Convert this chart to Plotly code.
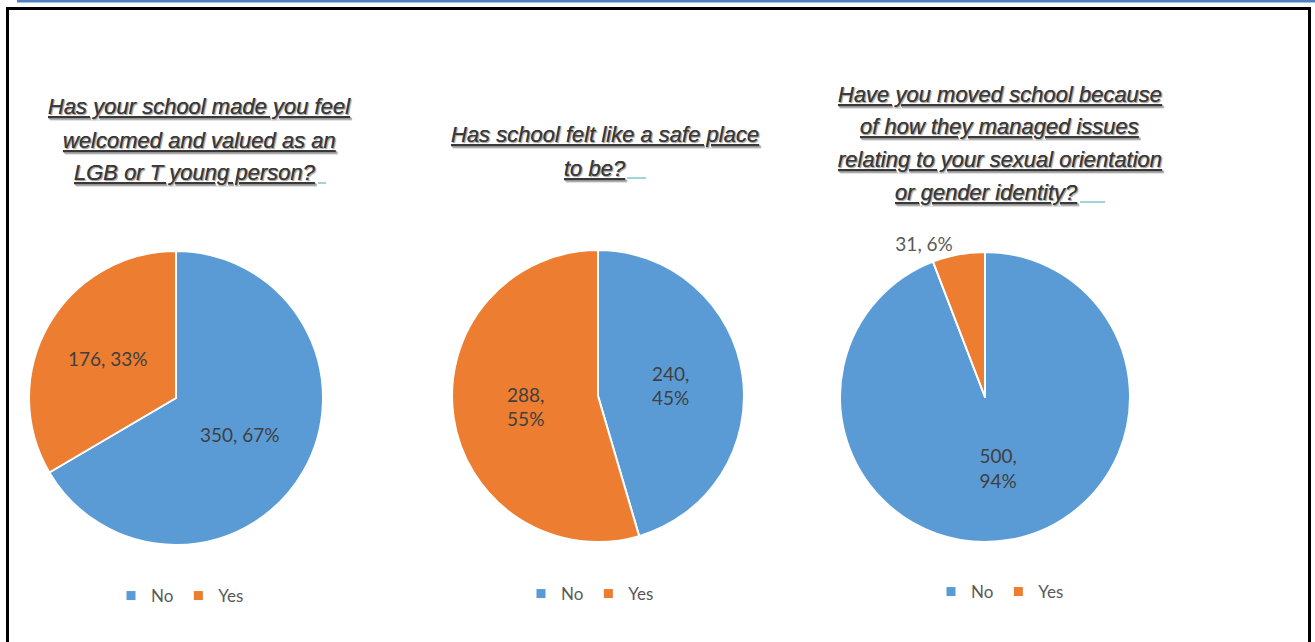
import plotly.graph_objects as go

W, H = 1315, 642

categories = ["No", "Yes"]
q1_values = [350, 176]
q2_values = [240, 288]
q3_values = [500, 31]

q1_title = ["Has your school made you feel", "welcomed and valued as an", "LGB or T young person?"]
q2_title = ["Has school felt like a safe place", "to be?"]
q3_title = ["Have you moved school because", "of how they managed issues",
            "relating to your sexual orientation", "or gender identity?"]

colors = ["#5B9BD5", "#ED7D31"]
text_font = dict(family="Lato, Open Sans, sans-serif", size=19, color="#404040")


def px_x(x):
    return x / W


def px_y(y):
    return 1 - y / H


def domain(cx, cy, r):
    return dict(x=[px_x(cx - r), px_x(cx + r)], y=[px_y(cy + r), px_y(cy - r)])


fig = go.Figure()

pies = [
    (q1_values, (176, 398, 147), ["%{value}, %{percent:.0%}", "%{value}, %{percent:.0%}"], ["inside", "inside"], "legend"),
    (q2_values, (598, 396, 146), ["%{value},<br>%{percent:.0%}", "%{value},<br>%{percent:.0%}"], ["inside", "inside"], "legend2"),
    (q3_values, (985, 397, 145), ["%{value},<br>%{percent:.0%}", "%{value}, %{percent:.0%}"], ["inside", "outside"], "legend3"),
]

for vals, (cx, cy, r), tt, tp, lg in pies:
    fig.add_trace(go.Pie(
        labels=categories, values=vals, sort=False, direction="clockwise", rotation=0,
        domain=domain(cx, cy, r),
        marker=dict(colors=colors, line=dict(color="white", width=2)),
        texttemplate=tt, textposition=tp, insidetextorientation="horizontal",
        textfont=text_font, outsidetextfont=dict(family=text_font["family"], size=19, color="#595959"),
        hoverinfo="label+value+percent",
        showlegend=False,
    ))
    # legend entries (one legend per pie)
    for cat, col in zip(categories, colors):
        fig.add_trace(go.Scatter(
            x=[None], y=[None], mode="markers", name=cat,
            marker=dict(symbol="square", size=9, color=col),
            legend=lg, showlegend=True, hoverinfo="skip",
        ))

leg_common = dict(orientation="h", xanchor="center", yanchor="middle",
                  font=dict(family="Lato, Open Sans, sans-serif", size=17, color="#595959"),
                  bgcolor="rgba(0,0,0,0)", itemwidth=30, tracegroupgap=0)
fig.update_layout(
    legend=dict(x=px_x(180), y=px_y(596), **leg_common),
    legend2=dict(x=px_x(590), y=px_y(594), **leg_common),
    legend3=dict(x=px_x(1000), y=px_y(592), **leg_common),
    xaxis=dict(visible=False), yaxis=dict(visible=False),
)

title_font = dict(family="Liberation Sans, Arial, sans-serif", size=22, color="#383838",
                  shadow="1px 1px 1px #aaaaaa")


def add_title(lines, cx_list, y0, dy):
    for i, (line, cx) in enumerate(zip(lines, cx_list)):
        fig.add_annotation(text="<i><u>" + line + "</u></i>", x=px_x(cx), y=px_y(y0 + i * dy),
                           xref="paper", yref="paper", xanchor="center", yanchor="middle",
                           showarrow=False, font=title_font)


add_title(q1_title, [199, 199, 195], 107, 33)
add_title(q2_title, [605, 595], 135, 33)
add_title(q3_title, [1000, 1000, 1000, 987], 94, 32.7)

shapes = []
# teal tick marks at the end of titles
for x0, x1, y in [(318, 326, 183), (627, 646, 178), (1080, 1105, 202)]:
    shapes.append(dict(type="line", xref="paper", yref="paper", x0=px_x(x0), x1=px_x(x1),
                       y0=px_y(y), y1=px_y(y), line=dict(color="#9fd4d8", width=2)))
# top blue rule
shapes.append(dict(type="line", xref="paper", yref="paper", x0=px_x(17), x1=1, y0=px_y(1), y1=px_y(1),
                   line=dict(color="#4F81BD", width=3)))
# black frame
shapes.append(dict(type="rect", xref="paper", yref="paper", x0=px_x(7.5), x1=px_x(1309.5),
                   y0=px_y(660), y1=px_y(8.5), line=dict(color="black", width=3)))

fig.update_layout(
    width=W, height=H, margin=dict(l=0, r=0, t=0, b=0),
    paper_bgcolor="white", plot_bgcolor="white",
    shapes=shapes,
)

fig.write_html("out.html", config={"displayModeBar": False},
               post_script="document.body.style.margin='0';document.body.style.overflow='hidden';")
